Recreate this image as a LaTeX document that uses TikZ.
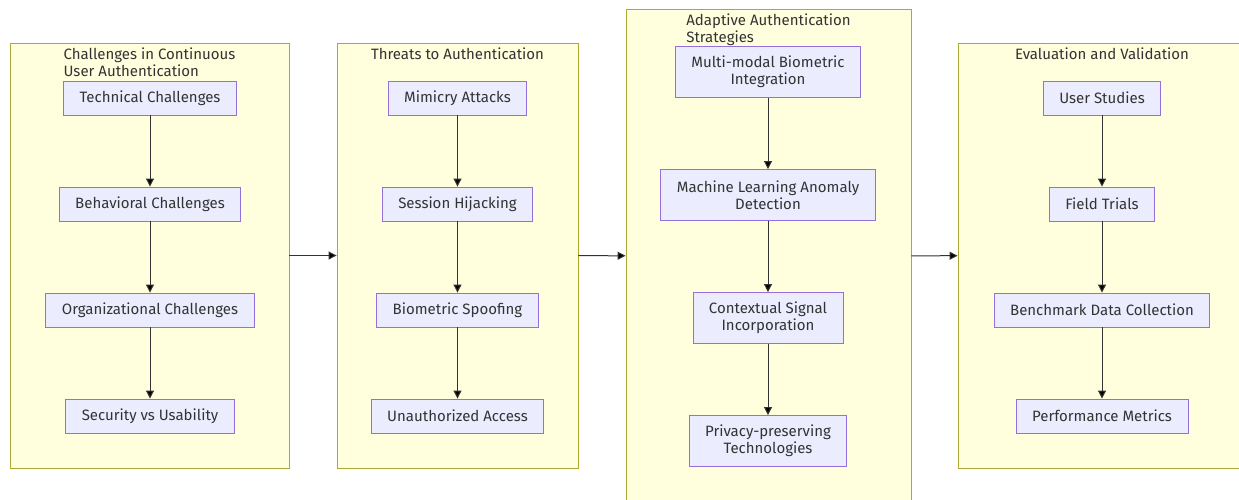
\documentclass[tikz,border=0pt]{standalone}
\usepackage{fontspec}
\setmainfont{Fira Sans}
\usetikzlibrary{positioning,arrows.meta}
\definecolor{clfill}{HTML}{FFFFDE}
\definecolor{cldraw}{HTML}{AAAA33}
\definecolor{bxfill}{HTML}{ECECFF}
\definecolor{bxdraw}{HTML}{9370DB}
\definecolor{txt}{HTML}{333333}
\tikzset{
  cluster/.style={draw=cldraw,fill=clfill,line width=0.9pt,inner sep=0pt},
  title/.style={text=txt,font=\fontsize{15}{17}\selectfont,align=left,inner sep=0pt,anchor=north},
  box/.style={draw=bxdraw,fill=bxfill,line width=0.9pt,text=txt,font=\fontsize{15}{17}\selectfont,
    align=center,minimum height=34pt,inner xsep=16pt,inner ysep=0pt},
  flow/.style={draw=txt,line width=1pt,-{Triangle[length=8pt,width=8pt]}}
}
\begin{document}
\begin{tikzpicture}[x=1pt,y=-1pt,node distance=106pt,on grid]
\useasboundingbox (0,0) rectangle (1239,499);
\clip (0,0) rectangle (1239,499);
% clusters
\node[cluster,minimum width=279pt,minimum height=425pt] (chal) at (149.5,255.5) {};
\node[cluster,minimum width=241pt,minimum height=425pt] (thr) at (457.5,255.5) {};
\node[cluster,minimum width=285pt,minimum height=494pt] (ada) at (768.5,256) {};
\node[cluster,minimum width=288pt,minimum height=425pt] (eva) at (1102,255.5) {};
\node[title] (chalt) at (149.5,47.5) {Challenges in Continuous\\User Authentication};
\node[title] (thrt) at (457.5,47.5) {Threats to Authentication};
\node[title] (adat) at (768.5,13.5) {Adaptive Authentication\\Strategies};
\node[title] (evat) at (1102,47.5) {Evaluation and Validation};
% challenges
\node[box] (tech) at (150,98) {Technical Challenges};
\node[box] (beh) [below=of tech] {Behavioral Challenges};
\node[box] (org) [below=of beh] {Organizational Challenges};
\node[box] (secu) [below=of org] {Security vs Usability};
% threats
\node[box] (mim) at (457.5,98) {Mimicry Attacks};
\node[box] (hij) [below=of mim] {Session Hijacking};
\node[box] (spoof) [below=of hij] {Biometric Spoofing};
\node[box] (unauth) [below=of spoof] {Unauthorized Access};
% strategies
\node[box,minimum height=51pt] (multi) at (768,72) {Multi-modal Biometric\\Integration};
\node[box,minimum height=51pt] (ml) [below=123pt of multi] {Machine Learning Anomaly\\Detection};
\node[box,minimum height=51pt] (ctx) [below=123pt of ml] {Contextual Signal\\Incorporation};
\node[box,minimum height=51pt] (priv) [below=123pt of ctx] {Privacy-preserving\\Technologies};
% evaluation
\node[box] (users) at (1102,98) {User Studies};
\node[box] (field) [below=of users] {Field Trials};
\node[box] (bench) [below=of field] {Benchmark Data Collection};
\node[box] (perf) [below=of bench] {Performance Metrics};
\path[flow]
  (tech) edge (beh) (beh) edge (org) (org) edge (secu)
  (mim) edge (hij) (hij) edge (spoof) (spoof) edge (unauth)
  (multi) edge (ml) (ml) edge (ctx) (ctx) edge (priv)
  (users) edge (field) (field) edge (bench) (bench) edge (perf)
  (chal) edge (thr) (thr) edge (ada) (ada) edge (eva);
\end{tikzpicture}
\end{document}
